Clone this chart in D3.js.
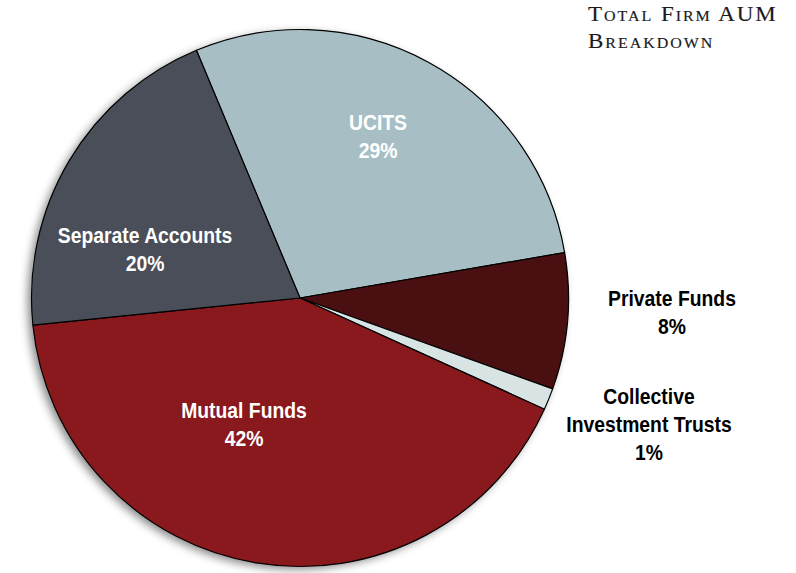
<!DOCTYPE html>
<html>
<head>
<meta charset="utf-8">
<script src="https://cdn.jsdelivr.net/npm/d3@7"></script>
<style>
  body { margin: 0; background: #fff; }
  svg { display: block; }
</style>
</head>
<body>
<div id="chart"></div>
<script>
// data (shares; labels show them rounded)
const categories = ["UCITS", "Private Funds", "Collective Investment Trusts", "Mutual Funds", "Separate Accounts"];
const shares = [28.6, 8.2, 1.3, 41.6, 20.3];
const sliceColors = ["#a7bfc4", "#4a0f10", "#d8e4e4", "#8a191d", "#4a4e58"];

const width = 796;
const height = 573;
const cx = 300, cy = 298, radius = 268.5;
const startDeg = -22.7;

// label placement
const labelLayout = {
  "UCITS": { lines: ["UCITS"], x: 378, y: 122, fill: "#fff" },
  "Separate Accounts": { lines: ["Separate Accounts"], x: 145, y: 235, fill: "#fff" },
  "Mutual Funds": { lines: ["Mutual Funds"], x: 244, y: 410, fill: "#fff" },
  "Private Funds": { lines: ["Private Funds"], x: 672, y: 298, fill: "#000" },
  "Collective Investment Trusts": { lines: ["Collective", "Investment Trusts"], x: 649, y: 396, fill: "#000" }
};

const data = categories.map((c, i) => ({ name: c, value: shares[i], color: sliceColors[i] }));

const svg = d3.select("#chart").append("svg")
  .attr("width", width)
  .attr("height", height);

const defs = svg.append("defs");
const filter = defs.append("filter")
  .attr("id", "shadow")
  .attr("x", "-10%").attr("y", "-10%")
  .attr("width", "120%").attr("height", "120%");
filter.append("feDropShadow")
  .attr("dx", -4).attr("dy", 3)
  .attr("stdDeviation", 4)
  .attr("flood-color", "#000")
  .attr("flood-opacity", 0.45);

const pie = d3.pie()
  .value(d => d.value)
  .sort(null)
  .startAngle(startDeg * Math.PI / 180)
  .endAngle((startDeg + 360) * Math.PI / 180);

const arc = d3.arc()
  .innerRadius(0)
  .outerRadius(radius);

const g = svg.append("g")
  .attr("transform", `translate(${cx},${cy})`);

g.append("circle")
  .attr("r", radius)
  .attr("fill", "#888")
  .attr("filter", "url(#shadow)");

g.selectAll("path")
  .data(pie(data))
  .enter()
  .append("path")
  .attr("d", arc)
  .attr("fill", d => d.data.color)
  .attr("stroke", "#000")
  .attr("stroke-width", 1.2)
  .attr("stroke-linejoin", "round");

// labels
data.forEach(d => {
  const lay = labelLayout[d.name];
  const lines = lay.lines.concat([Math.round(d.value) + "%"]);
  const t = svg.append("text")
    .attr("text-anchor", "middle")
    .attr("font-family", "'Liberation Sans', Arial, sans-serif")
    .attr("font-weight", "bold")
    .attr("font-size", 22.5)
    .attr("fill", lay.fill)
    .attr("transform", `translate(${lay.x},${lay.y}) scale(0.86,1)`);
  lines.forEach((ln, i) => {
    t.append("tspan")
      .attr("x", 0)
      .attr("y", i * 28)
      .attr("dy", "0.35em")
      .text(ln);
  });
});

// title
const title = svg.append("text")
  .attr("font-family", "'Liberation Serif', 'DejaVu Serif', serif")
  .attr("font-size", 20)
  .attr("font-variant", "small-caps")
  .attr("fill", "#1a1a1a")
  .attr("stroke", "#1a1a1a")
  .attr("stroke-width", 0.15)
  .attr("letter-spacing", 1.7)
  .attr("transform", "translate(588,0) scale(1.15,1)");
title.append("tspan").attr("x", 0).attr("y", 21).text("Total Firm AUM");
title.append("tspan").attr("x", 0).attr("y", 48).text("Breakdown");
</script>
</body>
</html>
